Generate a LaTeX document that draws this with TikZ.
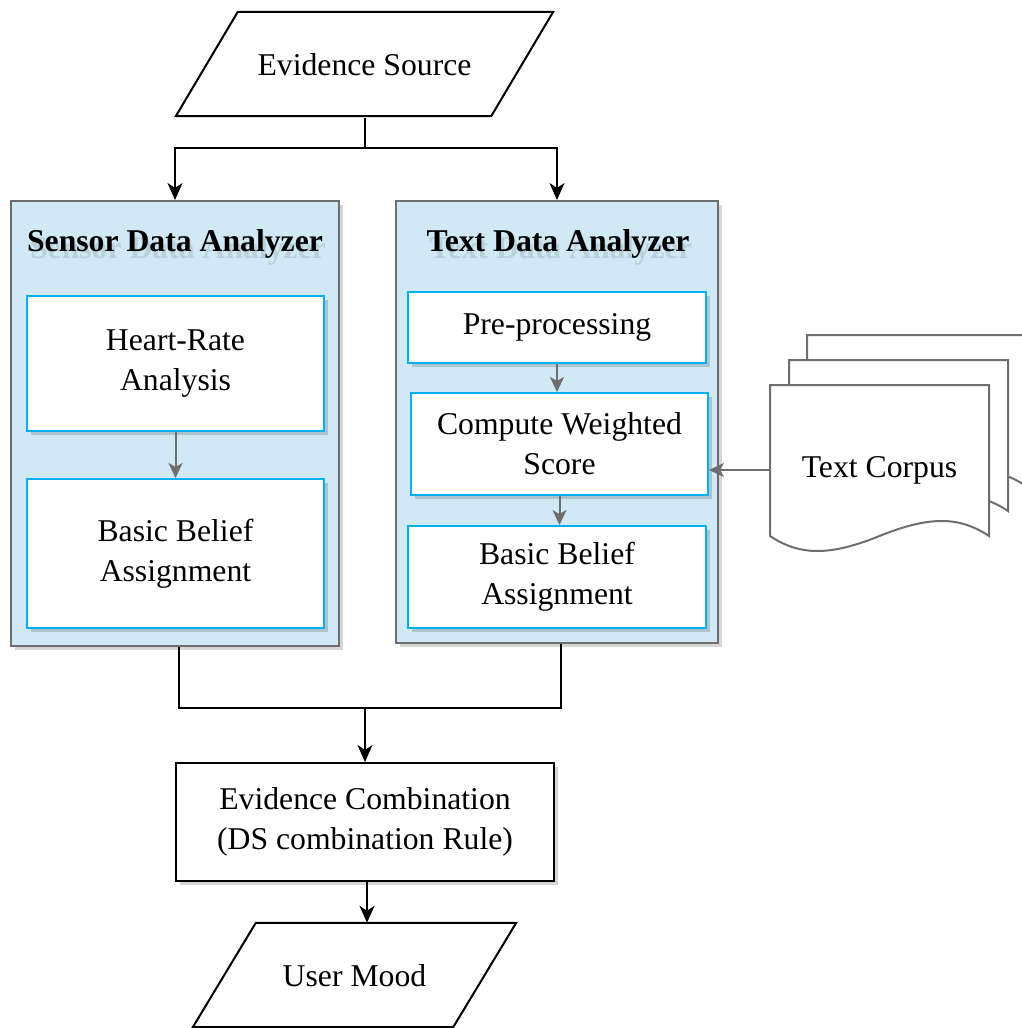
\documentclass[tikz,border=0pt]{standalone}
\usepackage{fontspec}
\setmainfont{Liberation Serif}
\usetikzlibrary{arrows.meta,shadows}
\definecolor{panelfill}{HTML}{D0E9F4}
\definecolor{panelline}{HTML}{6E6E6E}
\definecolor{stepline}{HTML}{00B0F0}
\definecolor{flowgray}{HTML}{6E6E6E}
\pgfdeclarelayer{bg}
\pgfsetlayers{bg,main}

\begin{document}
\begin{tikzpicture}[x=1pt,y=-1pt,
  every node/.style={font=\fontsize{31.7}{40}\selectfont, align=center, inner sep=0pt},
  softshadow/.style={drop shadow={shadow xshift=4pt,shadow yshift=-4pt,fill=black,opacity=0.16}},
  panel/.style={draw=panelline, fill=panelfill, line width=2pt, softshadow},
  stepbox/.style={draw=stepline, fill=white, line width=2pt, softshadow},
  plainbox/.style={draw=black, fill=white, line width=2pt, softshadow},
  title/.style={font=\fontsize{31.7}{40}\selectfont\bfseries},
  titleshade/.style={font=\fontsize{31.7}{40}\selectfont\bfseries, text=black, opacity=0.10},
  flow/.style={line width=2pt, draw=black, -{Stealth[length=17pt,width=15pt,inset=5pt]}},
  flowline/.style={line width=2pt, draw=black},
  subflow/.style={line width=2pt, draw=flowgray, -{Stealth[length=15pt,width=14pt,inset=4pt]}},
  docpage/.style={draw=flowgray, fill=white, line width=2pt},
]
\useasboundingbox (0,0) rectangle (1021,1028);

% input and output parallelogram holders
\node (src) [minimum width=377pt, minimum height=104pt] at (364.5,65) {Evidence Source};
\node (um)  [minimum width=323pt, minimum height=104pt] at (354.5,976) {User Mood};

% analyzer panels
\node (sda) [panel, minimum width=328pt, minimum height=445pt] at (175,423.5) {};
\node (tda) [panel, minimum width=322pt, minimum height=442pt] at (557,422) {};
\node [titleshade] at (178,251) {Sensor Data Analyzer};
\node (sdat) [title] at (175,244) {Sensor Data Analyzer};
\node [titleshade] at (561,251) {Text Data Analyzer};
\node (tdat) [title] at (558,244) {Text Data Analyzer};

% sensor steps
\node (hr)  [stepbox, minimum width=297pt, minimum height=135pt] at (175.5,363.5) {Heart-Rate\\Analysis};
\node (bbl) [stepbox, minimum width=297pt, minimum height=149pt] at (175.5,553.5) {Basic Belief\\Assignment};

% text steps
\node (pre) [stepbox, minimum width=298pt, minimum height=71pt]  at (557,327.5) {Pre-processing};
\node (cws) [stepbox, minimum width=297pt, minimum height=102pt] at (559.5,444) {Compute Weighted\\Score};
\node (bbr) [stepbox, minimum width=298pt, minimum height=102pt] at (557,577) {Basic Belief\\Assignment};

% combination
\node (ec) [plainbox, minimum width=378pt, minimum height=118pt] at (365,822) {Evidence Combination\\(DS combination Rule)};

% corpus
\node (corpus) [minimum width=219pt, minimum height=170pt] at (879.5,470) {Text Corpus};

\begin{pgfonlayer}{bg}
  % parallelograms with soft shadow
  \fill[black, opacity=0.14, shift={(4,4)}]
    ([yshift=1pt]src.south west) -- ([xshift=62pt,yshift=1pt]src.north west) -- ([yshift=1pt]src.north east) -- ([xshift=-62pt,yshift=1pt]src.south east) -- cycle;
  \draw[line width=2pt, fill=white]
    ([yshift=1pt]src.south west) -- ([xshift=62pt,yshift=1pt]src.north west) -- ([yshift=1pt]src.north east) -- ([xshift=-62pt,yshift=1pt]src.south east) -- cycle;
  \fill[black, opacity=0.14, shift={(4,4)}]
    ([yshift=1pt]um.south west) -- ([xshift=63pt,yshift=1pt]um.north west) -- ([yshift=1pt]um.north east) -- ([xshift=-63pt,yshift=1pt]um.south east) -- cycle;
  \draw[line width=2pt, fill=white]
    ([yshift=1pt]um.south west) -- ([xshift=63pt,yshift=1pt]um.north west) -- ([yshift=1pt]um.north east) -- ([xshift=-63pt,yshift=1pt]um.south east) -- cycle;
  % stacked document pages
  \foreach \dx/\dy in {37/-50, 19/-25, 0/0} {
    \draw[docpage, shift={(\dx,\dy)}]
      (770,385) -- (989,385) -- (989,536)
      .. controls (959,516) and (929,516) .. (879.5,536)
      .. controls (830,556) and (800,556) .. (770,536) -- cycle;
  }
\end{pgfonlayer}

% connectors
\coordinate (split) at (364.5,148);
\coordinate (merge) at (365,708);
\draw[flowline] ([yshift=-1pt]src.south) -- (split);
\draw[flow] (split) -| (sda.north);
\draw[flow] (split) -| (tda.north);

\draw[subflow] (hr.south) -- (hr.south |- bbl.north);
\draw[subflow] (pre.south) -- (pre.south |- cws.north);
\draw[subflow] (cws.south) -- (cws.south |- bbr.north);
\draw[subflow] (corpus.west) -- (corpus.west -| cws.east);

\draw[flowline] ([xshift=4pt]sda.south) |- (merge) -| ([xshift=4pt]tda.south);
\draw[flow] (merge) -- (ec.north);
\draw[flow] ([xshift=2pt]ec.south) -- ([xshift=2pt,yshift=1pt]ec.south |- um.north);
\end{tikzpicture}
\end{document}
